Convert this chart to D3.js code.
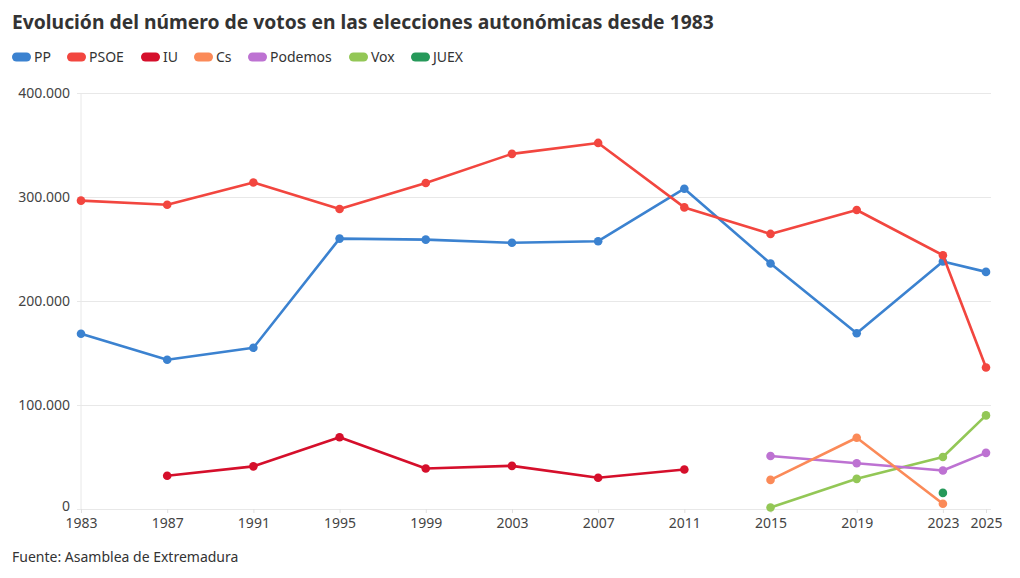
<!DOCTYPE html>
<html>
<head>
<meta charset="utf-8">
<script src="https://cdn.jsdelivr.net/npm/d3@7"></script>
<style>
  body { margin: 0; background: #fff; }
  svg { display: block; font-family: "Noto Sans", "Open Sans", sans-serif; }
</style>
</head>
<body>
<div id="chart"></div>
<script>
// Datos
var years = [1983, 1987, 1991, 1995, 1999, 2003, 2007, 2011, 2015, 2019, 2023, 2025];
var yTicks = [0, 100000, 200000, 300000, 400000];

var ppVotes     = [168500, 143500, 155000, 260000, 259000, 256000, 257500, 308000, 236000, 169000, 238000, 228000];
var psoeVotes   = [296500, 292500, 314000, 288500, 313500, 341500, 352000, 290000, 264500, 287500, 244000, 136000];
var iuVotes     = [null, 32000, 41000, 69000, 39000, 41500, 30000, 38000, null, null, null, null];
var csVotes     = [null, null, null, null, null, null, null, null, 28000, 68500, 5000, null];
var podemosVotes= [null, null, null, null, null, null, null, null, 51000, 44000, 37000, 54000];
var voxVotes    = [null, null, null, null, null, null, null, null, 1500, 29000, 50000, 90000];
var juexVotes   = [null, null, null, null, null, null, null, null, null, null, 15500, null];

var seriesNames = ['PP', 'PSOE', 'IU', 'Cs', 'Podemos', 'Vox', 'JUEX'];
var seriesColors = ['#3b82d0', '#f2463f', '#d50f2b', '#fb8a58', '#bd72d2', '#93c756', '#26995a'];
var seriesValues = [ppVotes, psoeVotes, iuVotes, csVotes, podemosVotes, voxVotes, juexVotes];

var width = 1020, height = 578;
var margin = { top: 93, right: 29, bottom: 69, left: 81 };

var svg = d3.select('#chart')
	.append('svg')
	.attr('width', width)
	.attr('height', height);

// Título
svg.append('text')
	.attr('x', 12)
	.attr('y', 29)
	.attr('font-size', 19.3)
	.attr('font-weight', 700)
	.attr('fill', '#333')
	.text('Evolución del número de votos en las elecciones autonómicas desde 1983');

// Leyenda
var legendX = [12, 67, 141, 194, 248, 349, 411];
var legend = svg.append('g').attr('class', 'legend');
seriesNames.forEach(function(name, i) {
	var g = legend.append('g').attr('transform', 'translate(' + legendX[i] + ',57)');
	g.append('rect')
		.attr('x', 0).attr('y', -4.5)
		.attr('width', 19).attr('height', 9)
		.attr('rx', 4.5)
		.attr('fill', seriesColors[i]);
	g.append('text')
		.attr('x', 22)
		.attr('y', 5)
		.attr('font-size', 14)
		.attr('fill', '#333')
		.text(name);
});

var x = d3.scaleLinear()
	.domain([1983, 2025])
	.range([margin.left, 986]);

var y = d3.scaleLinear()
	.domain([0, 400000])
	.range([height - margin.bottom, margin.top]);

var fmt = function(d) { return d3.format(',')(d).replace(/,/g, '.'); };

// Rejilla horizontal + etiquetas eje Y
var yAxis = svg.append('g')
	.attr('transform', 'translate(' + (width - margin.right) + ',0)')
	.call(d3.axisLeft(y)
		.tickValues(yTicks)
		.tickSize(width - margin.right - margin.left + 4)
		.tickPadding(7)
		.tickFormat(fmt));
yAxis.select('.domain').remove();
yAxis.selectAll('.tick line').attr('stroke', '#e8e8e8');
yAxis.selectAll('.tick text')
	.attr('font-size', 14)
	.attr('fill', '#444')
	.attr('font-family', '"Noto Sans", sans-serif');
// el "0" queda algo más arriba para no pisar el 1983
yAxis.selectAll('.tick text').filter(function(d) { return d === 0; }).attr('dy', '0.1em');

// Línea vertical izquierda
svg.append('line')
	.attr('x1', x(1983)).attr('x2', x(1983))
	.attr('y1', y(400000)).attr('y2', y(0))
	.attr('stroke', '#e8e8e8');

// Eje X
var xAxis = svg.append('g')
	.attr('transform', 'translate(0,' + y(0) + ')')
	.call(d3.axisBottom(x)
		.tickValues(years)
		.tickSize(4)
		.tickPadding(5)
		.tickFormat(d3.format('d')));
xAxis.select('.domain').remove();
xAxis.selectAll('.tick line').attr('stroke', '#e0e0e0');
xAxis.selectAll('.tick text')
	.attr('font-size', 14)
	.attr('fill', '#444')
	.attr('font-family', '"Noto Sans", sans-serif');

// Series
var line = d3.line()
	.defined(function(d) { return d.v !== null; })
	.x(function(d) { return x(d.year); })
	.y(function(d) { return y(d.v); });

var drawOrder = [6, 5, 4, 3, 2, 0, 1];
drawOrder.forEach(function(i) {
	var data = years.map(function(yr, j) { return { year: yr, v: seriesValues[i][j] }; });
	var g = svg.append('g').attr('class', 'series');
	g.append('path')
		.datum(data)
		.attr('fill', 'none')
		.attr('stroke', seriesColors[i])
		.attr('stroke-width', 2.6)
		.attr('stroke-linejoin', 'round')
		.attr('d', line);
	g.selectAll('circle')
		.data(data.filter(function(d) { return d.v !== null; }))
		.enter()
		.append('circle')
		.attr('cx', function(d) { return x(d.year); })
		.attr('cy', function(d) { return y(d.v); })
		.attr('r', 4.3)
		.attr('fill', seriesColors[i]);
});

// Fuente
svg.append('text')
	.attr('x', 12)
	.attr('y', 562)
	.attr('font-size', 14)
	.attr('fill', '#333')
	.text('Fuente: Asamblea de Extremadura');
</script>
</body>
</html>
